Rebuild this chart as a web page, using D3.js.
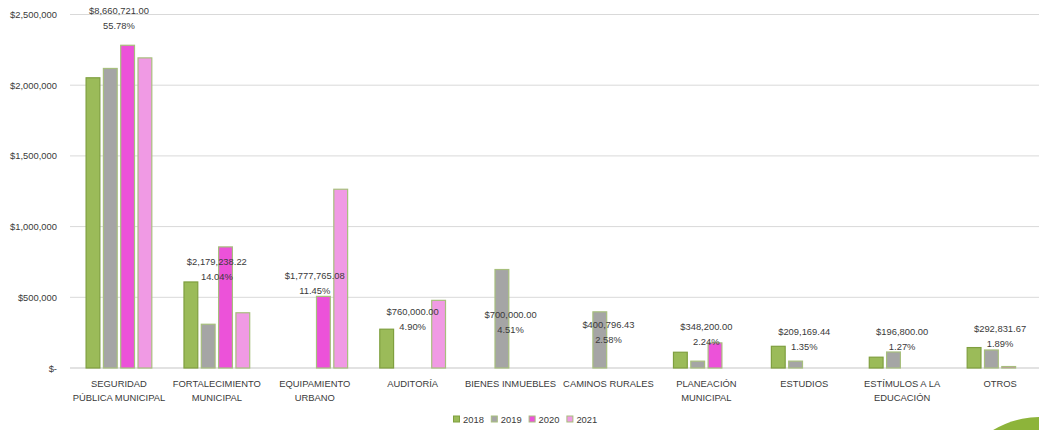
<!DOCTYPE html>
<html><head><meta charset="utf-8">
<script src="https://cdn.jsdelivr.net/npm/d3@7"></script>
<style>
html,body{margin:0;padding:0;background:#fff;overflow:hidden}
svg{display:block;font-family:"Liberation Sans",Arial,sans-serif}
</style></head>
<body><svg id="c" width="1039" height="430"></svg>
<script>
const categories = ["SEGURIDAD\nPÚBLICA MUNICIPAL","FORTALECIMIENTO\nMUNICIPAL","EQUIPAMIENTO\nURBANO","AUDITORÍA","BIENES INMUEBLES","CAMINOS RURALES","PLANEACIÓN\nMUNICIPAL","ESTUDIOS","ESTÍMULOS A LA\nEDUCACIÓN","OTROS"];
const years = ["2018","2019","2020","2021"];
const values2018 = [2056000, 612000, 0, 278000, 0, 0, 115000, 157000, 80000, 148000];
const values2019 = [2122000, 313000, 0, 0, 700000, 400796.43, 52000, 52169.44, 116800, 131000];
const values2020 = [2286000, 860000, 510000, 0, 0, 0, 181200, 0, 0, 13831.67];
const values2021 = [2196721, 394238.22, 1267765.08, 482000, 0, 0, 0, 0, 0, 0];
const totals = [8660721.00, 2179238.22, 1777765.08, 760000.00, 700000.00, 400796.43, 348200.00, 209169.44, 196800.00, 292831.67];
const percents = ["55.78%","14.04%","11.45%","4.90%","4.51%","2.58%","2.24%","1.35%","1.27%","1.89%"];
const yTicks = [0, 500000, 1000000, 1500000, 2000000, 2500000];

const series = [values2018, values2019, values2020, values2021];
const fills = ["#9bbb59","#a5a5a5","#ec52d9","#f09ae4"];
const strokes = ["#7f9f3f","#a7bf7d","#a7bf7d","#a7bf7d"];

const svg = d3.select("#c");
const fs = "9.4px", txt = "#3a3a3a";

// decorative circle
svg.append("circle").attr("cx",1040).attr("cy",508).attr("r",91).attr("fill","#8db43a");

const x0 = d3.scaleBand().domain(categories).range([70,1049]).padding(0);
const x1 = d3.scaleBand().domain(years).range([0,x0.bandwidth()]).paddingInner(0.145).paddingOuter(0.9);
const y = d3.scaleLinear().domain([0,2500000]).range([368,14.5]);

// gridlines
svg.append("g").selectAll("line").data(yTicks).join("line")
  .attr("x1",70).attr("x2",1039).attr("y1",d=>y(d)).attr("y2",d=>y(d))
  .attr("stroke","#d9d9d9").attr("stroke-width",d=>d===0?1.5:1);

// y axis
const fmt = d3.format(",");
const yAxis = d3.axisLeft(y).tickValues(yTicks).tickSize(0).tickPadding(0)
  .tickFormat(d => d===0 ? "$-" : "$"+fmt(d));
const ga = svg.append("g").attr("transform","translate(57,0)").call(yAxis);
ga.select(".domain").remove();
ga.selectAll("text").attr("font-size",fs).attr("fill",txt).attr("font-family","Liberation Sans, Arial, sans-serif");

// bars
const gb = svg.append("g");
series.forEach((vals,si)=>{
  gb.append("g").selectAll("rect").data(vals.map((v,i)=>({v,i})).filter(d=>d.v>0)).join("rect")
    .attr("x",d=>x0(categories[d.i])+x1(years[si])+0.5)
    .attr("y",d=>y(d.v)+0.5)
    .attr("width",x1.bandwidth()-1)
    .attr("height",d=>y(0)-y(d.v)-0.5)
    .attr("fill",fills[si]).attr("stroke",strokes[si]).attr("stroke-width",1.2);
});

// category labels
const gc = svg.append("g");
categories.forEach(c=>{
  const lines = c.split("\n");
  const t = gc.append("text").attr("text-anchor","middle").attr("font-size",fs).attr("fill",txt)
    .attr("x",x0(c)+x0.bandwidth()/2);
  lines.forEach((l,k)=>t.append("tspan").attr("x",x0(c)+x0.bandwidth()/2).attr("y",387+k*13.5).text(l));
});

// data labels
const money = d3.format(",.2f");
const gl = svg.append("g");
categories.forEach((c,i)=>{
  const cx = x0(c)+x0.bandwidth()/2;
  let y1 = y(totals[i]/4) - 29;
  if (y1 < 60) y1 = 11;
  gl.append("text").attr("x",cx).attr("y",y1).attr("dy","0.35em").attr("text-anchor","middle")
    .attr("font-size",fs).attr("fill",txt).text("$"+money(totals[i]));
  gl.append("text").attr("x",cx).attr("y",y1+15).attr("dy","0.35em").attr("text-anchor","middle")
    .attr("font-size",fs).attr("fill",txt).text(percents[i]);
});

// legend
const lg = svg.append("g");
years.forEach((yr,i)=>{
  const lx = 453.5 + i*37.8;
  lg.append("rect").attr("x",lx).attr("y",416).attr("width",6).attr("height",6)
    .attr("fill",fills[i]).attr("stroke",strokes[i]).attr("stroke-width",1);
  lg.append("text").attr("x",lx+9.5).attr("y",419.5).attr("dy","0.35em").attr("font-size",fs).attr("fill",txt).text(yr);
});
</script></body></html>
